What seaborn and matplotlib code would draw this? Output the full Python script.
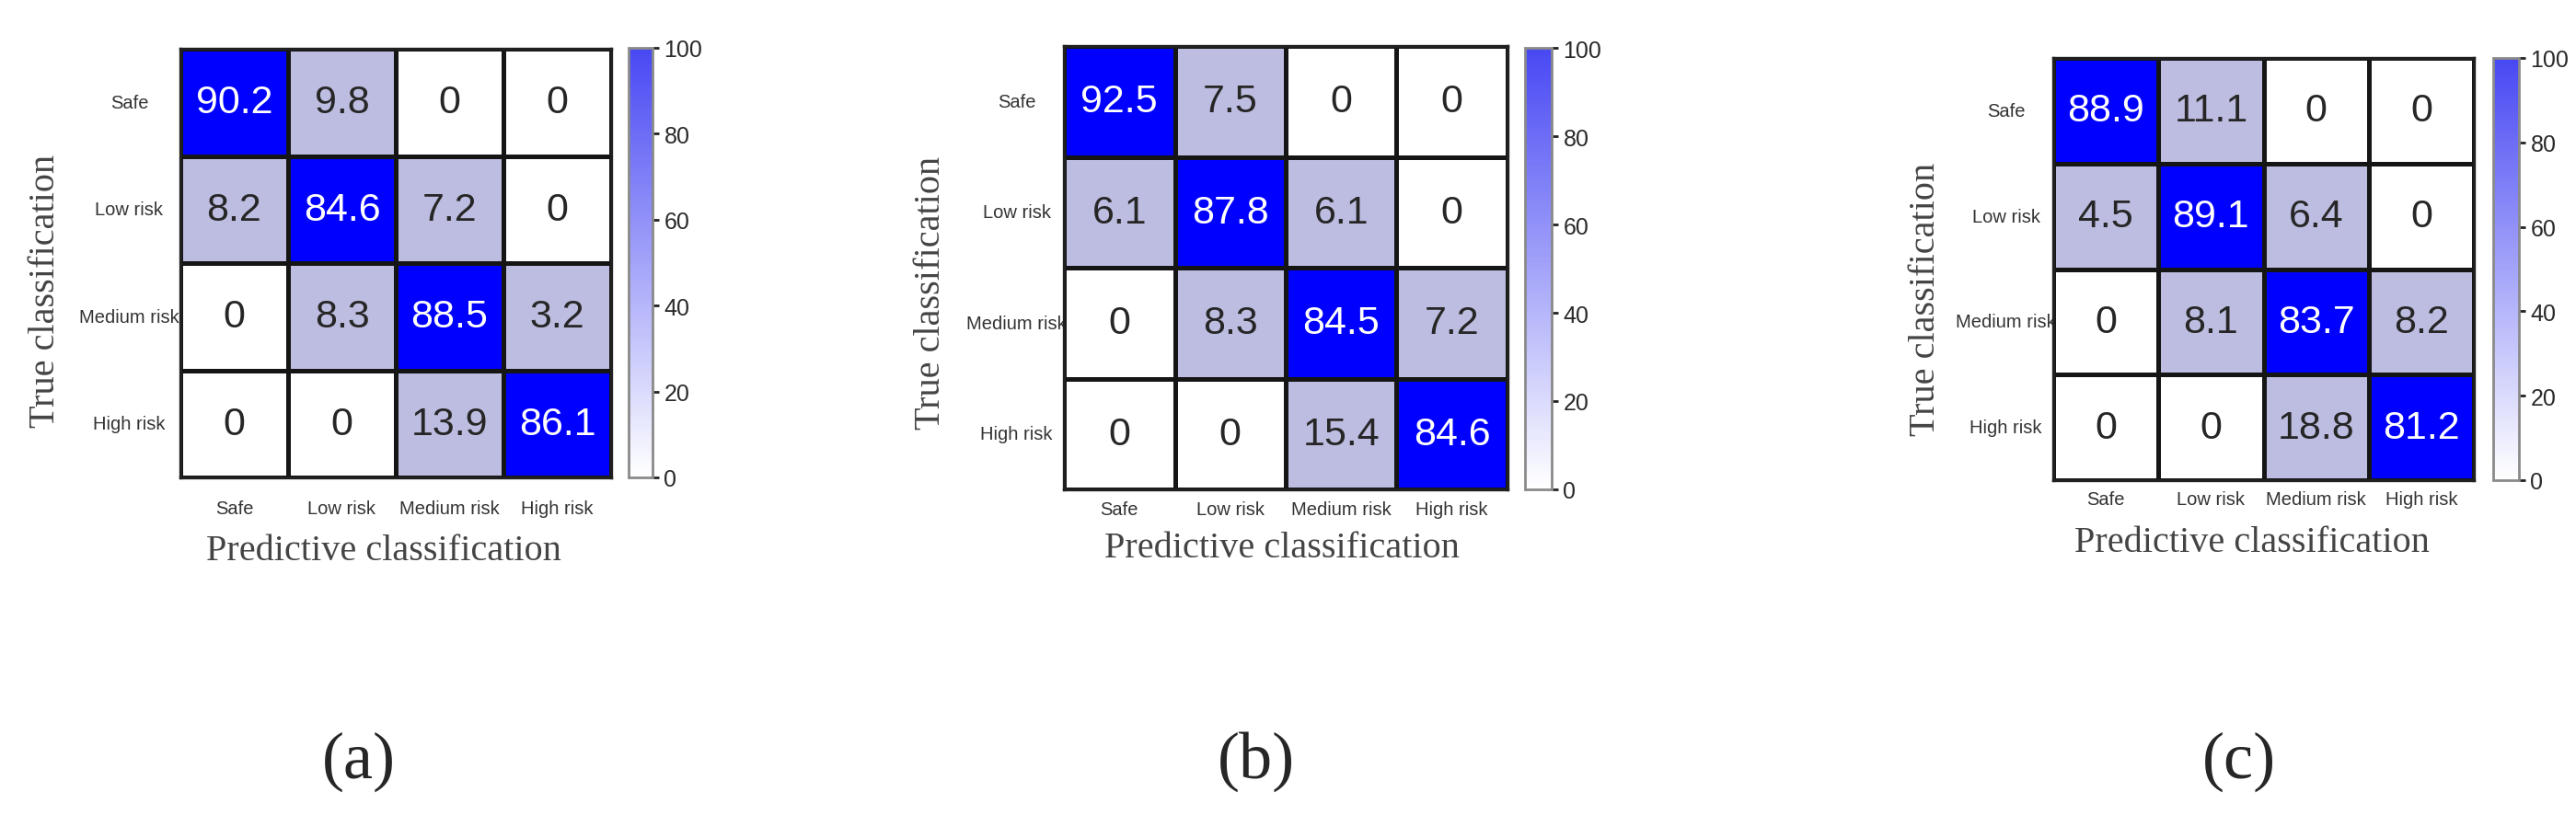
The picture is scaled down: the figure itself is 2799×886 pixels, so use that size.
"""Three confusion matrices for the risk classifier, side by side."""

import matplotlib

matplotlib.use("Agg")
import matplotlib.pyplot as plt
import numpy as np
import seaborn as sns
from matplotlib.cm import ScalarMappable
from matplotlib.colors import BoundaryNorm, LinearSegmentedColormap, ListedColormap, Normalize

sns.set_style("white")
plt.rcParams["font.family"] = ["Liberation Sans", "DejaVu Sans"]

# data (percent)
classes = ["Safe", "Low risk", "Medium risk", "High risk"]
cm_a = [[90.2, 9.8, 0, 0], [8.2, 84.6, 7.2, 0], [0, 8.3, 88.5, 3.2], [0, 0, 13.9, 86.1]]
cm_b = [[92.5, 7.5, 0, 0], [6.1, 87.8, 6.1, 0], [0, 8.3, 84.5, 7.2], [0, 0, 15.4, 84.6]]
cm_c = [[88.9, 11.1, 0, 0], [4.5, 89.1, 6.4, 0], [0, 8.1, 83.7, 8.2], [0, 0, 18.8, 81.2]]
panel_tags = ["(a)", "(b)", "(c)"]
cbar_ticks = [0, 20, 40, 60, 80, 100]
x_title = "Predictive classification"
y_title = "True classification"

W, H = 2799, 887

# pixel layout of each panel (x0, y0, x1, y1 from top-left)
layout = [
    dict(heat=(196, 54, 664, 520), cbar=(683, 53, 709, 520), ylab=(50, 316),
         xlab=(417, 600), tag=(390, 828), xpad=17, ypad=40),
    dict(heat=(1156, 51, 1638, 533), cbar=(1657, 53, 1686, 533), ylab=(1011, 318),
         xlab=(1393, 597), tag=(1365, 828), xpad=9, ypad=37),
    dict(heat=(2231, 64, 2688, 523), cbar=(2709, 64, 2737, 523), ylab=(2092, 325),
         xlab=(2447, 591), tag=(2433, 828), xpad=8, ypad=37),
]

# cells: zero -> white, off-diagonal errors -> lavender, hits -> blue
cell_cmap = ListedColormap(["#ffffff", "#bdbde1", "#0000ff"])
cell_norm = BoundaryNorm([0, 0.05, 50, 100], cell_cmap.N)
bar_cmap = LinearSegmentedColormap.from_list("wb", ["#ffffff", "#4848f4"])


def px_box(x0, y0, x1, y1):
    return [x0 / W, 1 - y1 / H, (x1 - x0) / W, (y1 - y0) / H]


def draw_panel(fig, values, tag, lay):
    values = np.asarray(values, dtype=float)
    labels = np.array([[f"{v:g}" for v in row] for row in values])
    x0, y0, x1, y1 = lay["heat"]
    ax = fig.add_axes(px_box(*lay["heat"]))
    cax = fig.add_axes(px_box(*lay["cbar"]))

    sns.heatmap(
        values,
        ax=ax,
        cmap=cell_cmap,
        norm=cell_norm,
        annot=labels,
        fmt="",
        annot_kws={"fontsize": 31},
        linewidths=2.2,
        linecolor="#151515",
        cbar=False,
        xticklabels=classes,
        yticklabels=classes,
    )
    for s in ax.spines.values():
        s.set_visible(True)
        s.set_linewidth(2.4)
        s.set_color("#202020")

    ax.tick_params(axis="both", length=0, labelsize=14.5, labelcolor="#333333")
    ax.tick_params(axis="x", pad=lay["xpad"])
    ax.tick_params(axis="y", pad=lay["ypad"])
    plt.setp(ax.get_xticklabels(), rotation=0)
    plt.setp(ax.get_yticklabels(), rotation=0, ha="center")

    w, h = x1 - x0, y1 - y0
    ax.set_xlabel(x_title, family="Liberation Serif", fontsize=29, color="#444444", va="center")
    ax.xaxis.set_label_coords((lay["xlab"][0] - x0) / w, 1 - (lay["xlab"][1] - y0) / h)
    ax.set_ylabel(y_title, family="Liberation Serif", fontsize=29, color="#444444", va="center")
    ax.yaxis.set_label_coords((lay["ylab"][0] - x0) / w, 1 - (lay["ylab"][1] - y0) / h)

    cb = fig.colorbar(ScalarMappable(norm=Normalize(0, 100), cmap=bar_cmap), cax=cax, ticks=cbar_ticks)
    cb.outline.set_edgecolor("#8a8a8a")
    cb.outline.set_linewidth(2.0)
    cax.tick_params(length=5, width=2, pad=4, labelsize=18, labelcolor="#2a2a2a", color="#222222")

    fig.text(lay["tag"][0] / W, 1 - lay["tag"][1] / H, tag, family="Liberation Serif",
             fontsize=52, ha="center", va="center")


fig = plt.figure(figsize=(W / 100, H / 100), dpi=100)
for vals, tag, lay in zip([cm_a, cm_b, cm_c], panel_tags, layout):
    draw_panel(fig, vals, tag, lay)

fig.savefig("out.png", dpi=100, facecolor="white")
plt.close(fig)
